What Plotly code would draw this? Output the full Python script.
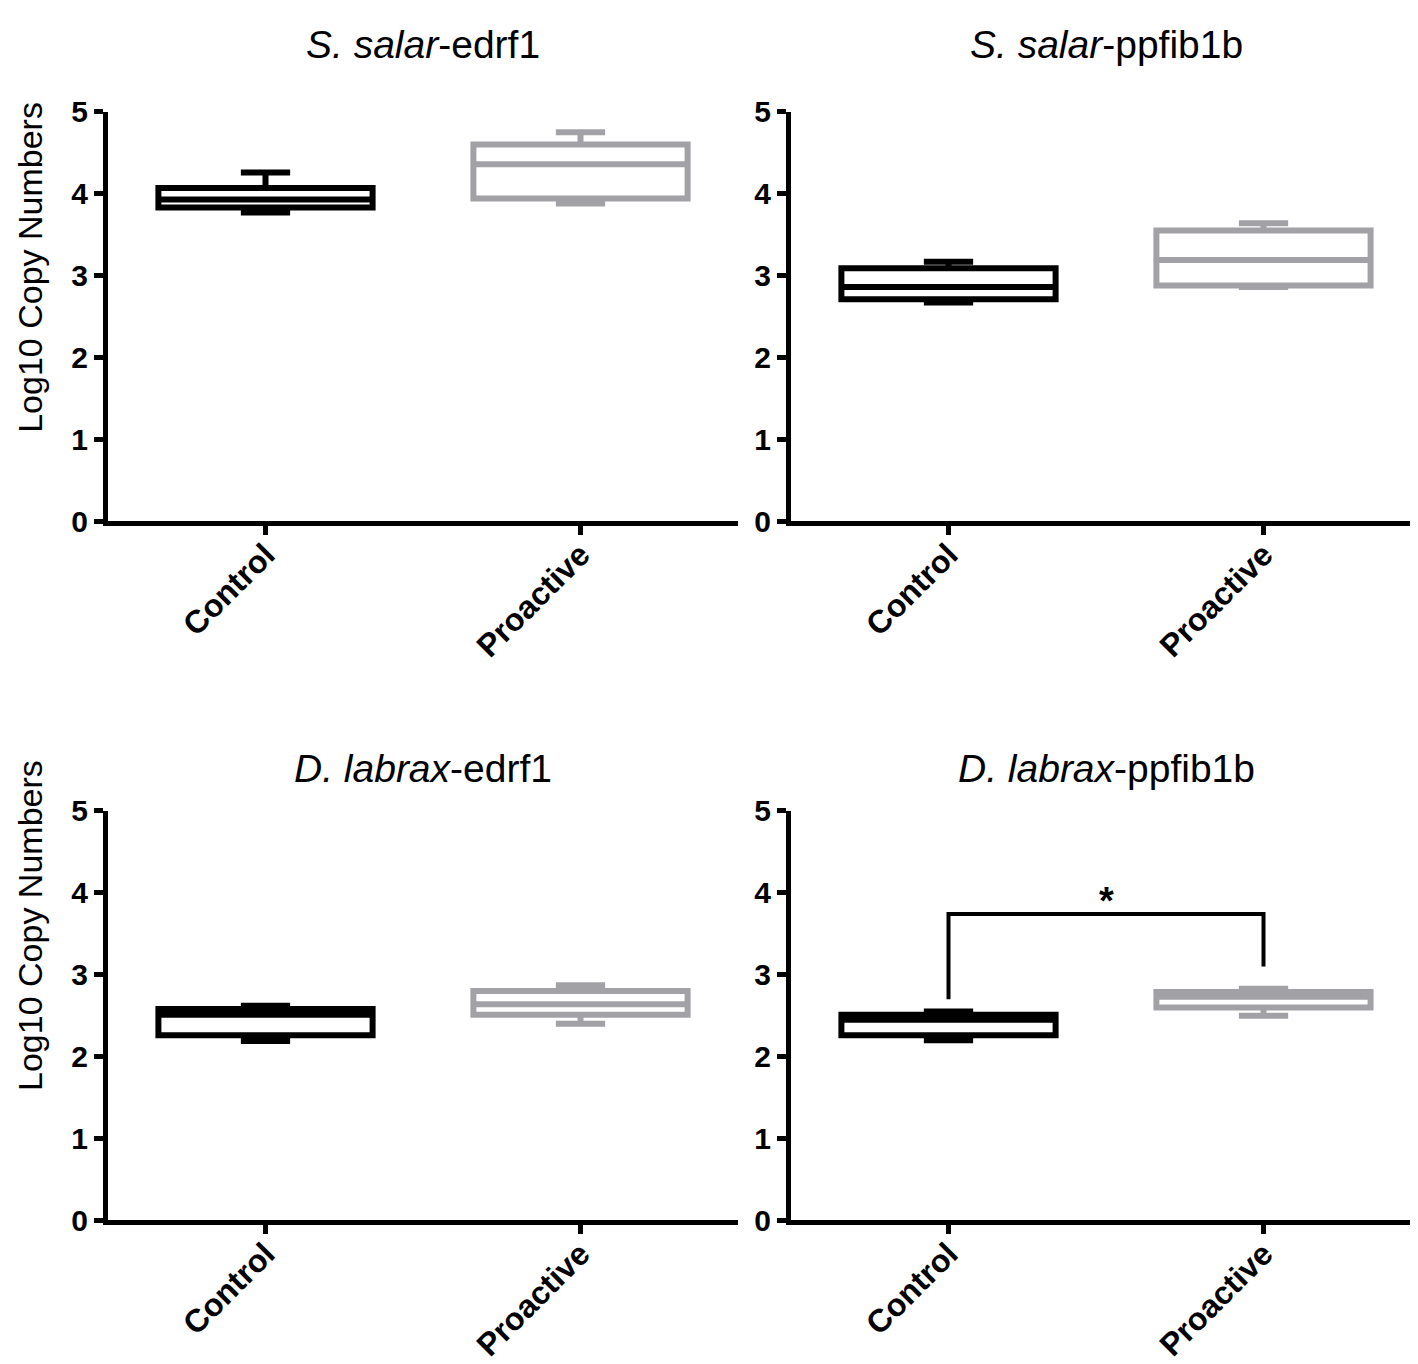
import plotly.graph_objects as go

W, H = 1418, 1364

groups = ["Control", "Proactive"]
panel_titles = ["<i>S. salar</i>-edrf1", "<i>S. salar</i>-ppfib1b",
                "<i>D. labrax</i>-edrf1", "<i>D. labrax</i>-ppfib1b"]
y_title = "Log10 Copy Numbers"
y_ticks = [0, 1, 2, 3, 4, 5]

# Box statistics per panel: [Control, Proactive]
salar_edrf1_lower = [3.77, 3.88]
salar_edrf1_q1 = [3.83, 3.94]
salar_edrf1_median = [3.93, 4.36]
salar_edrf1_q3 = [4.07, 4.60]
salar_edrf1_upper = [4.26, 4.75]

salar_ppfib1b_lower = [2.67, 2.86]
salar_ppfib1b_q1 = [2.71, 2.88]
salar_ppfib1b_median = [2.86, 3.19]
salar_ppfib1b_q3 = [3.09, 3.55]
salar_ppfib1b_upper = [3.17, 3.64]

labrax_edrf1_lower = [2.19, 2.40]
labrax_edrf1_q1 = [2.26, 2.51]
labrax_edrf1_median = [2.51, 2.64]
labrax_edrf1_q3 = [2.58, 2.80]
labrax_edrf1_upper = [2.62, 2.87]

labrax_ppfib1b_lower = [2.20, 2.50]
labrax_ppfib1b_q1 = [2.26, 2.60]
labrax_ppfib1b_median = [2.45, 2.73]
labrax_ppfib1b_q3 = [2.51, 2.79]
labrax_ppfib1b_upper = [2.55, 2.83]

# significance bracket (bottom-right panel)
bracket_x = ["Control", "Control", "Proactive", "Proactive"]
bracket_y = [2.70, 3.74, 3.74, 3.10]
sig_label = "*"

panels = [
    (salar_edrf1_lower, salar_edrf1_q1, salar_edrf1_median, salar_edrf1_q3, salar_edrf1_upper),
    (salar_ppfib1b_lower, salar_ppfib1b_q1, salar_ppfib1b_median, salar_ppfib1b_q3, salar_ppfib1b_upper),
    (labrax_edrf1_lower, labrax_edrf1_q1, labrax_edrf1_median, labrax_edrf1_q3, labrax_edrf1_upper),
    (labrax_ppfib1b_lower, labrax_ppfib1b_q1, labrax_ppfib1b_median, labrax_ppfib1b_q3, labrax_ppfib1b_upper),
]

colors = ["#000000", "#a2a2a6"]
FONT = "Liberation Sans, Arial, Helvetica, sans-serif"

# pixel layout of plot areas
x_px = [(100, 730), (783, 1413)]
y_px = [(89, 509), (806, 1226)]


def xd(a, b):
    return [a / W, b / W]


def yd(a, b):
    return [1 - b / H, 1 - a / H]


fig = go.Figure()
layout = dict(
    width=W, height=H,
    margin=dict(l=0, r=0, t=0, b=0),
    paper_bgcolor="white", plot_bgcolor="white",
    showlegend=False,
    font=dict(family=FONT, color="black"),
)

annotations = []
for i, stats in enumerate(panels):
    r, c = divmod(i, 2)
    sfx = "" if i == 0 else str(i + 1)
    lower, q1, med, q3, upper = stats
    for g in range(2):
        fig.add_trace(go.Box(
            x=[groups[g]], q1=[q1[g]], median=[med[g]], q3=[q3[g]],
            lowerfence=[lower[g]], upperfence=[upper[g]],
            boxpoints=False, width=0.68, whiskerwidth=0.23,
            fillcolor="white", line=dict(color=colors[g], width=6),
            xaxis="x" + sfx, yaxis="y" + sfx, hoverinfo="skip",
        ))
    layout["xaxis" + sfx] = dict(
        domain=xd(*x_px[c]), anchor="y" + sfx, type="category",
        categoryorder="array", categoryarray=groups, range=[-0.5, 1.5],
        showline=True, linewidth=5, linecolor="black",
        ticks="outside", ticklen=9, tickwidth=5, tickcolor="black",
        ticklabelstandoff=-12,
        tickangle=-45, tickfont=dict(family=FONT, size=32, color="black", weight="bold"),
        showgrid=False, zeroline=False, fixedrange=True,
    )
    layout["yaxis" + sfx] = dict(
        domain=yd(*y_px[r]), anchor="x" + sfx, range=[0, 5],
        tickvals=y_ticks, showline=True, linewidth=5, linecolor="black",
        ticks="outside", ticklen=9, tickwidth=5, tickcolor="black",
        tickfont=dict(family=FONT, size=30, color="black", weight="bold"),
        showgrid=False, zeroline=False, fixedrange=True,
    )
    cx = (x_px[c][0] + x_px[c][1]) / 2
    ty = 20 if r == 0 else 762
    annotations.append(dict(
        text=panel_titles[i], x=cx / W, y=1 - ty / H, xref="paper", yref="paper",
        xanchor="center", yanchor="middle", showarrow=False,
        font=dict(family=FONT, size=39, color="black"),
    ))
    if c == 0:
        yc = 249 if r == 0 else 924
        annotations.append(dict(
            text=y_title, x=22 / W, y=1 - yc / H, xref="paper", yref="paper",
            xanchor="center", yanchor="middle", showarrow=False, textangle=-90,
            font=dict(family=FONT, size=34, color="black"),
        ))

fig.add_trace(go.Scatter(
    x=bracket_x, y=bracket_y, mode="lines",
    line=dict(color="black", width=4), xaxis="x4", yaxis="y4", hoverinfo="skip",
))
annotations.append(dict(
    text=sig_label, x=0.5, y=bracket_y[1], xref="x4", yref="y4",
    xanchor="center", yanchor="bottom", yshift=-10, showarrow=False,
    font=dict(family=FONT, size=38, color="black", weight="bold"),
))

layout["annotations"] = annotations
fig.update_layout(**layout)
fig.write_html("out.html")
